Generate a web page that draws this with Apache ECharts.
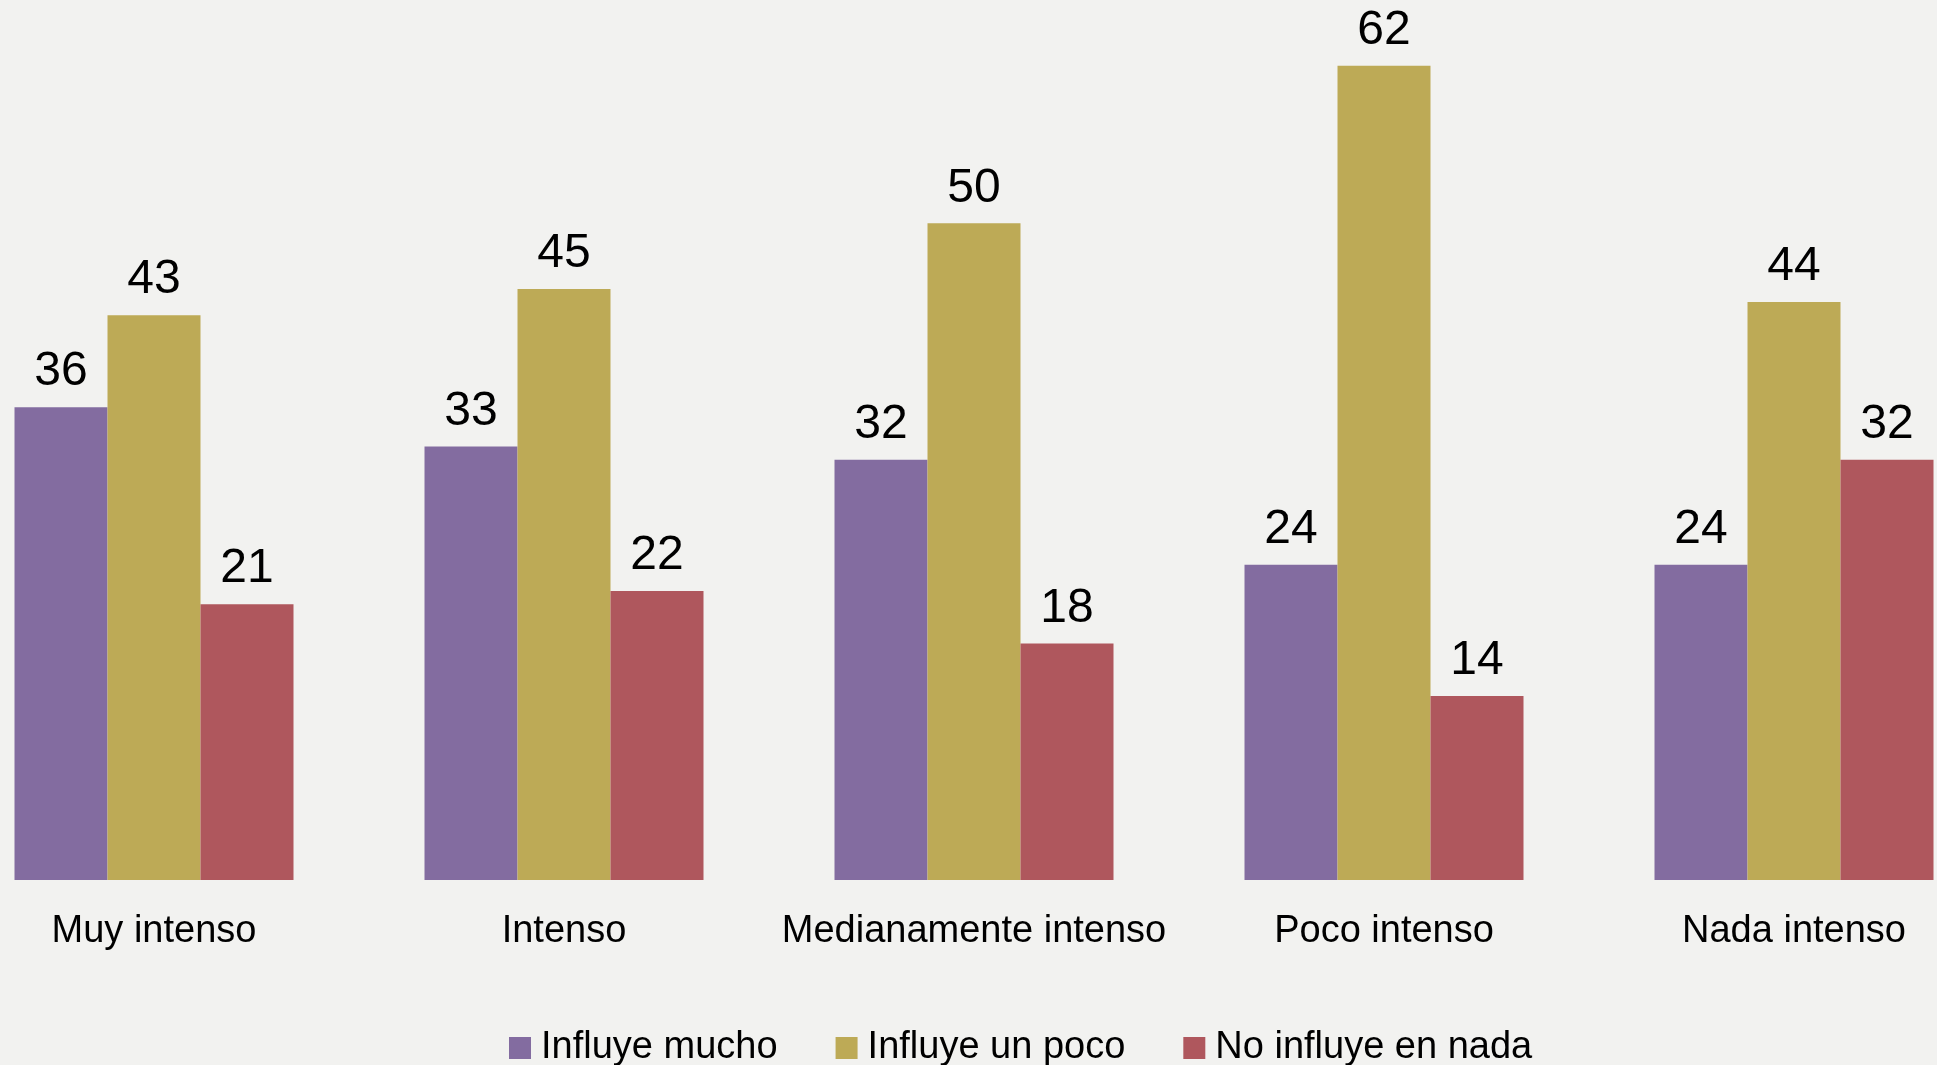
<!DOCTYPE html>
<html>
<head>
<meta charset="utf-8">
<title>Influencia</title>
<script src="https://cdn.jsdelivr.net/npm/echarts@6/dist/echarts.min.js"></script>
<style>
  html, body { margin: 0; padding: 0; background: #f2f2f0; }
  #chart { width: 1937px; height: 1065px; }
</style>
</head>
<body>
<div id="chart"></div>
<script>
  const categories = ['Muy intenso', 'Intenso', 'Medianamente intenso', 'Poco intenso', 'Nada intenso'];
  const seriesNames = ['Influye mucho', 'Influye un poco', 'No influye en nada'];
  const mucho = [36, 33, 32, 24, 24];
  const unPoco = [43, 45, 50, 62, 44];
  const nada = [21, 22, 18, 14, 32];

  const colors = ['#836ca0', '#bdaa56', '#af575d'];
  const fontFamily = '"Liberation Sans", Arial, sans-serif';

  const chart = echarts.init(document.getElementById('chart'));

  const makeSeries = (name, data, color) => ({
    name,
    type: 'bar',
    data,
    barWidth: 93,
    barGap: '0%',
    itemStyle: { color },
    label: {
      show: true,
      position: 'top',
      distance: 11,
      color: '#000',
      fontSize: 48,
      fontFamily,
    },
    animation: false,
  });

  chart.setOption({
    backgroundColor: '#f2f2f0',
    color: colors,
    grid: {
      left: -51,
      right: -62,
      top: 0,
      bottom: 185,
      containLabel: false,
      outerBoundsMode: 'none',
    },
    legend: {
      left: 509,
      top: 1026,
      padding: 0,
      itemWidth: 22,
      itemHeight: 22,
      itemGap: 58,
      icon: 'rect',
      textStyle: {
        fontSize: 38,
        lineHeight: 44,
        color: '#000',
        fontFamily,
        padding: [0, 0, 0, 5],
      },
      data: seriesNames,
    },
    xAxis: {
      type: 'category',
      data: categories,
      axisLine: { show: false },
      axisTick: { show: false },
      axisLabel: {
        interval: 0,
        margin: 33,
        fontSize: 38,
        color: '#000',
        fontFamily,
      },
    },
    yAxis: {
      type: 'value',
      min: 0,
      max: 67,
      show: false,
      splitLine: { show: false },
    },
    series: [
      makeSeries(seriesNames[0], mucho, colors[0]),
      makeSeries(seriesNames[1], unPoco, colors[1]),
      makeSeries(seriesNames[2], nada, colors[2]),
    ],
  });
</script>
</body>
</html>
